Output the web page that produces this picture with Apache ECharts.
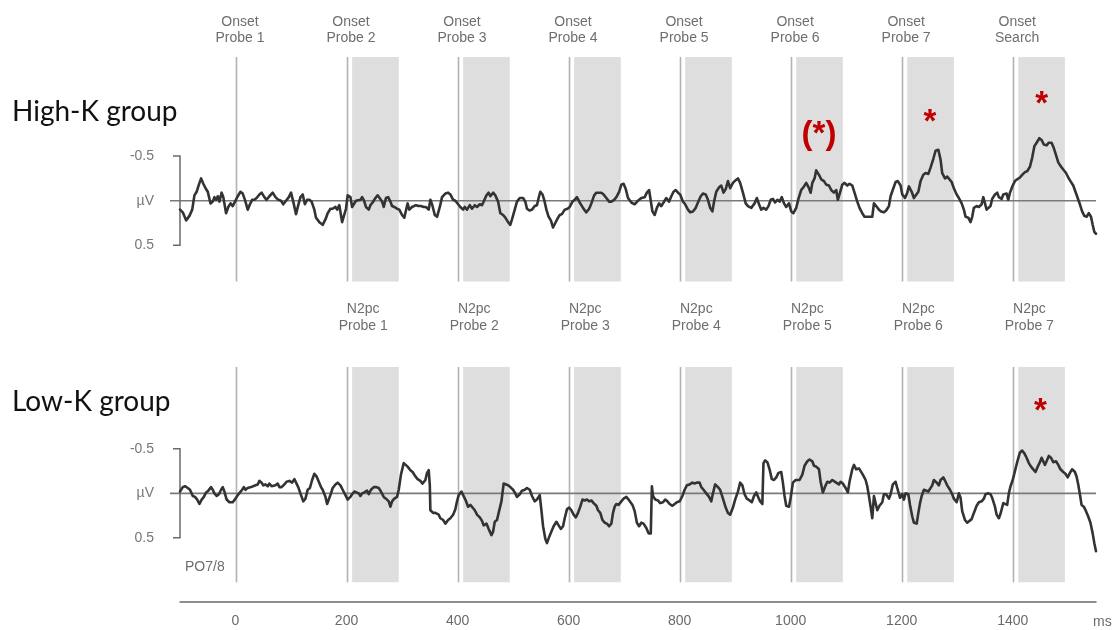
<!DOCTYPE html>
<html><head><meta charset="utf-8">
<script src="https://cdn.jsdelivr.net/npm/echarts@6/dist/echarts.min.js"></script>
<style>html,body{margin:0;padding:0;background:#fff}#c{width:1116px;height:630px}</style>
</head><body><div id="c"></div>
<script>
// ---- data (time in ms, amplitude in µV) ----
const highKWave = [[-100,0.10],[-95,0.13],[-89,0.22],[-83,0.17],[-78,0.10],[-74,-0.06],[-70,-0.10],[-66,-0.18],[-62,-0.25],[-58,-0.19],[-54,-0.14],[-50,-0.10],[-45,0.03],[-41,0.01],[-38,-0.04],[-35,-0.01],[-32,-0.05],[-29,0.01],[-25,-0.09],[-22,-0.04],[-17,0.14],[-13,0.07],[-9,0.03],[-5,0.06],[0,0],[4,-0.05],[9,-0.10],[13,-0.08],[17,-0.01],[22,0.10],[26,0.04],[30,-0.01],[34,-0.01],[38,-0.03],[43,-0.07],[47,-0.09],[52,-0.04],[56,-0.01],[61,-0.05],[67,-0.09],[72,-0.04],[77,-0.01],[82,0],[86,0.04],[91,0],[96,-0.04],[100,-0.09],[104,0.01],[109,0.15],[113,0.05],[117,-0.04],[121,-0.07],[125,0.04],[129,-0.01],[133,-0.01],[137,0.01],[142,0.10],[145,0.19],[151,0.24],[157,0.27],[162,0.21],[166,0.14],[171,0.09],[175,0.09],[180,0.07],[183,0.10],[187,0.05],[192,0.24],[195,0.25],[199,0.09],[202,-0.06],[207,-0.04],[210,0.07],[213,0.04],[217,0],[220,0.02],[225,-0.01],[228,-0.04],[231,-0.01],[235,0.07],[240,0.10],[243,0.05],[247,0.02],[252,-0.03],[256,-0.06],[259,-0.08],[264,0.01],[267,0.07],[271,-0.03],[275,-0.04],[279,0.01],[282,0.06],[286,0.07],[291,0.09],[295,0.10],[300,0.16],[304,0.19],[307,0.11],[310,0.03],[313,0.10],[318,0.07],[321,0.06],[325,0.05],[330,0.06],[334,0.06],[339,0.07],[343,0.07],[348,0.10],[351,-0.01],[354,0.04],[359,0.16],[363,0.18],[368,0.07],[372,-0.04],[378,-0.08],[383,-0.09],[387,-0.07],[392,-0.01],[396,0],[401,0.04],[405,0.07],[410,0.10],[413,0.07],[417,0.10],[422,0.05],[426,0.09],[431,0.05],[435,0.07],[440,0.04],[444,0.05],[447,0.03],[452,-0.06],[456,-0.09],[459,-0.05],[464,-0.09],[468,-0.06],[473,0.01],[477,0.14],[482,0.16],[486,0.19],[491,0.24],[495,0.27],[498,0.21],[503,0.10],[507,0.01],[512,-0.03],[518,-0.03],[522,0.01],[525,0.09],[530,0.11],[534,0.10],[539,0.06],[543,0.05],[546,-0.03],[549,-0.10],[553,-0.07],[556,-0.01],[560,0.10],[564,0.18],[568,0.22],[572,0.30],[576,0.25],[580,0.20],[584,0.16],[588,0.15],[593,0.10],[598,0.09],[602,0.07],[607,0.01],[611,-0.01],[615,-0.04],[620,0.02],[624,0.06],[628,0.10],[632,0.13],[637,0.09],[641,0.03],[646,-0.06],[650,-0.09],[655,-0.09],[659,-0.09],[663,-0.07],[668,-0.03],[673,0.01],[677,0.01],[682,-0.01],[686,-0.04],[691,-0.10],[695,-0.18],[699,-0.19],[703,-0.13],[707,-0.03],[713,0.02],[719,0.04],[725,0],[731,-0.03],[737,-0.04],[741,-0.09],[745,-0.12],[748,-0.14],[751,0.12],[755,0.16],[759,0.08],[763,0.03],[767,0.06],[771,0.02],[776,-0.03],[781,0.01],[785,-0.05],[789,-0.10],[793,-0.12],[797,-0.09],[801,-0.07],[806,0.01],[810,0.04],[815,0.10],[819,0.13],[824,0.12],[829,0.08],[833,0.02],[838,-0.05],[842,-0.08],[847,-0.07],[851,-0.01],[855,0.08],[859,0.12],[862,0.01],[866,-0.10],[871,-0.15],[875,-0.17],[879,-0.09],[883,-0.13],[887,-0.22],[891,-0.14],[896,-0.20],[901,-0.23],[905,-0.25],[909,-0.20],[914,-0.09],[919,0.03],[923,0.06],[929,0.08],[935,0.03],[939,-0.03],[943,0.04],[947,0.10],[951,0.08],[956,0.10],[960,0.06],[964,-0.01],[968,-0.02],[972,0.02],[976,-0.01],[980,0.01],[984,-0.04],[988,0.03],[992,0.07],[997,0.03],[1001,0.12],[1005,0.14],[1010,0.08],[1014,-0.02],[1019,-0.12],[1024,-0.16],[1028,-0.20],[1033,-0.14],[1036,-0.09],[1039,-0.20],[1043,-0.25],[1046,-0.34],[1051,-0.29],[1055,-0.24],[1060,-0.22],[1064,-0.18],[1069,-0.17],[1073,-0.12],[1078,-0.09],[1082,-0.12],[1085,-0.01],[1088,-0.07],[1093,-0.18],[1097,-0.20],[1102,-0.17],[1106,-0.19],[1111,-0.17],[1115,-0.09],[1120,0.01],[1124,0.08],[1129,0.14],[1133,0.18],[1138,0.18],[1142,0.18],[1147,0.18],[1150,0.03],[1154,0.06],[1159,0.10],[1163,0.12],[1168,0.13],[1172,0.11],[1177,0.06],[1180,-0.05],[1185,-0.14],[1189,-0.21],[1193,-0.22],[1198,-0.17],[1201,-0.07],[1206,-0.03],[1210,-0.09],[1213,-0.16],[1218,-0.10],[1222,-0.03],[1225,-0.02],[1230,-0.10],[1234,-0.22],[1239,-0.29],[1243,-0.31],[1248,-0.30],[1252,-0.37],[1257,-0.47],[1261,-0.56],[1266,-0.57],[1270,-0.46],[1273,-0.31],[1278,-0.25],[1282,-0.27],[1285,-0.28],[1290,-0.21],[1294,-0.14],[1299,-0.07],[1303,-0.03],[1308,0.03],[1312,0.10],[1315,0.18],[1320,0.19],[1324,0.24],[1327,0.18],[1330,0.08],[1335,0.06],[1339,0.07],[1344,0.04],[1347,-0.04],[1350,0.03],[1353,0.10],[1356,0.12],[1360,0.06],[1363,-0.02],[1368,-0.07],[1372,-0.09],[1375,-0.04],[1380,-0.02],[1383,-0.07],[1386,-0.05],[1389,-0.08],[1392,-0.01],[1395,-0.09],[1400,-0.17],[1404,-0.22],[1408,-0.24],[1413,-0.26],[1417,-0.29],[1422,-0.32],[1426,-0.33],[1431,-0.38],[1435,-0.48],[1439,-0.61],[1443,-0.65],[1448,-0.70],[1452,-0.68],[1456,-0.63],[1461,-0.62],[1465,-0.65],[1470,-0.65],[1474,-0.59],[1478,-0.51],[1482,-0.43],[1486,-0.39],[1491,-0.35],[1496,-0.31],[1500,-0.26],[1504,-0.22],[1509,-0.17],[1513,-0.10],[1517,-0.03],[1521,0.04],[1525,0.12],[1529,0.17],[1533,0.18],[1537,0.14],[1541,0.18],[1544,0.27],[1547,0.35],[1550,0.37]];

const lowKWave = [[-100,-0.02],[-95,-0.07],[-91,-0.08],[-86,-0.06],[-82,-0.04],[-77,0.03],[-73,0.04],[-69,0.07],[-65,0.12],[-61,0.07],[-57,0.04],[-53,-0.01],[-49,-0.03],[-44,-0.07],[-41,-0.04],[-38,0],[-34,0.03],[-30,0.01],[-26,-0.04],[-23,-0.07],[-20,-0.02],[-16,0.07],[-11,0.10],[-5,0.10],[0,0.06],[4,0.02],[7,0.03],[12,-0.04],[15,-0.07],[18,-0.04],[22,-0.06],[25,-0.07],[28,-0.07],[31,-0.06],[36,-0.09],[40,-0.10],[43,-0.14],[47,-0.12],[50,-0.09],[54,-0.10],[58,-0.08],[61,-0.11],[65,-0.08],[68,-0.06],[72,-0.09],[76,-0.11],[79,-0.07],[83,-0.07],[88,-0.10],[92,-0.13],[97,-0.14],[102,-0.12],[106,-0.16],[109,-0.15],[113,-0.07],[118,0.02],[122,0.09],[126,0.06],[130,-0.04],[134,-0.06],[138,-0.15],[142,-0.22],[146,-0.19],[150,-0.13],[154,-0.07],[157,-0.04],[162,0.04],[165,0.12],[168,0.07],[172,0],[175,-0.06],[180,-0.10],[184,-0.12],[189,-0.09],[193,-0.04],[198,0.02],[202,0.07],[207,0.04],[210,0.01],[214,-0.02],[217,-0.04],[222,0],[225,0.03],[228,0],[232,-0.01],[237,-0.03],[240,0.01],[244,-0.04],[249,-0.07],[253,-0.07],[258,-0.06],[262,-0.02],[267,0.04],[271,0.06],[276,0.09],[279,0.15],[282,0.09],[286,0.06],[291,0.04],[294,-0.04],[298,-0.21],[303,-0.34],[306,-0.36],[310,-0.30],[315,-0.26],[319,-0.24],[324,-0.19],[328,-0.16],[333,-0.14],[337,-0.11],[342,-0.15],[345,-0.23],[348,-0.26],[350,-0.09],[351,0.19],[356,0.22],[360,0.22],[363,0.21],[366,0.24],[369,0.28],[374,0.30],[378,0.34],[383,0.30],[387,0.28],[392,0.24],[396,0.18],[399,0.09],[402,0.02],[407,-0.02],[410,0.02],[414,0.07],[419,0.15],[423,0.13],[426,0.11],[431,0.19],[435,0.24],[440,0.27],[444,0.31],[447,0.36],[452,0.34],[456,0.40],[461,0.47],[464,0.43],[467,0.32],[471,0.30],[474,0.22],[479,0.09],[483,-0.11],[486,-0.12],[491,-0.09],[495,-0.07],[500,-0.04],[504,0],[507,0.04],[512,0.01],[516,-0.03],[521,-0.04],[525,-0.06],[530,-0.04],[534,0.03],[539,0.09],[543,0.07],[548,0.02],[551,0.19],[554,0.37],[558,0.51],[561,0.56],[565,0.49],[569,0.43],[573,0.37],[578,0.32],[582,0.36],[586,0.40],[590,0.37],[593,0.28],[597,0.18],[601,0.16],[605,0.19],[609,0.24],[613,0.27],[617,0.22],[621,0.15],[625,0.07],[629,0.08],[633,0.07],[637,0.09],[641,0.08],[645,0.11],[650,0.14],[653,0.19],[657,0.22],[661,0.30],[665,0.33],[669,0.34],[673,0.37],[677,0.34],[680,0.22],[683,0.15],[686,0.12],[690,0.13],[695,0.09],[699,0.06],[704,0.04],[708,0.07],[715,0.13],[719,0.20],[723,0.33],[727,0.37],[731,0.33],[735,0.34],[740,0.39],[744,0.45],[748,0.45],[750,-0.08],[752,0.03],[756,0.07],[761,0.08],[765,0.11],[770,0.10],[774,0.07],[778,0.09],[782,0.12],[787,0.14],[791,0.12],[795,0.10],[800,0.09],[805,0.03],[809,-0.04],[813,-0.09],[818,-0.10],[823,-0.12],[827,-0.11],[831,-0.12],[836,-0.12],[839,-0.07],[843,-0.04],[848,0],[853,0.04],[857,0.09],[860,0],[864,-0.10],[869,-0.07],[873,-0.04],[878,0.06],[883,0.16],[887,0.22],[891,0.24],[896,0.16],[900,0.07],[905,-0.02],[909,-0.12],[913,-0.09],[917,0.01],[921,0.06],[926,0.08],[930,0.10],[934,0.03],[938,-0.01],[942,0.05],[945,0.09],[949,0.12],[951,-0.34],[954,-0.37],[958,-0.35],[962,-0.27],[966,-0.16],[970,-0.15],[974,-0.18],[978,-0.23],[983,-0.24],[986,-0.12],[989,0.03],[992,0.14],[997,0.15],[1000,0.05],[1004,-0.12],[1009,-0.15],[1012,-0.17],[1016,-0.15],[1021,-0.21],[1025,-0.31],[1030,-0.36],[1034,-0.38],[1039,-0.36],[1042,-0.31],[1046,-0.30],[1051,-0.27],[1054,-0.13],[1058,-0.01],[1063,-0.09],[1066,-0.13],[1070,-0.12],[1075,-0.15],[1078,-0.17],[1082,-0.12],[1087,-0.10],[1090,-0.13],[1094,-0.11],[1099,-0.06],[1103,-0.01],[1106,-0.13],[1111,-0.27],[1114,-0.32],[1118,-0.27],[1123,-0.28],[1126,-0.27],[1130,-0.21],[1135,-0.15],[1138,-0.08],[1141,0.03],[1144,0.15],[1147,0.28],[1150,0.03],[1153,0.11],[1156,0.19],[1160,0.14],[1165,0.10],[1168,0.01],[1172,0.01],[1177,0.06],[1180,0.01],[1184,-0.10],[1189,-0.13],[1192,-0.06],[1197,0.05],[1201,0.01],[1204,0.07],[1207,0],[1212,0.01],[1215,0.13],[1219,0.26],[1222,0.33],[1227,0.34],[1230,0.22],[1233,0.11],[1236,0.03],[1240,-0.04],[1243,-0.06],[1248,-0.02],[1251,0],[1255,-0.09],[1258,-0.15],[1263,-0.12],[1267,-0.09],[1270,-0.15],[1275,-0.18],[1279,-0.13],[1282,-0.09],[1287,-0.04],[1291,0.01],[1294,0.06],[1299,0.10],[1303,0],[1306,0.05],[1309,0.20],[1314,0.30],[1318,0.33],[1321,0.33],[1326,0.29],[1330,0.22],[1335,0.14],[1339,0.10],[1344,0.09],[1348,0.06],[1351,0.01],[1356,0],[1360,0.01],[1363,0.05],[1368,0.15],[1371,0.24],[1375,0.28],[1378,0.23],[1383,0.11],[1386,0.10],[1390,0.13],[1393,0],[1396,-0.08],[1400,-0.15],[1404,-0.25],[1408,-0.35],[1413,-0.46],[1417,-0.48],[1421,-0.45],[1425,-0.40],[1429,-0.34],[1433,-0.30],[1437,-0.27],[1441,-0.24],[1445,-0.30],[1449,-0.35],[1452,-0.40],[1455,-0.41],[1458,-0.32],[1461,-0.36],[1465,-0.42],[1469,-0.40],[1473,-0.35],[1478,-0.36],[1482,-0.32],[1486,-0.27],[1491,-0.24],[1495,-0.22],[1499,-0.18],[1503,-0.23],[1507,-0.27],[1512,-0.24],[1515,-0.19],[1518,-0.10],[1521,0.01],[1524,0.13],[1528,0.15],[1532,0.20],[1536,0.26],[1540,0.33],[1544,0.45],[1547,0.56],[1550,0.65]];

const onsetTimes = [0, 200, 400, 600, 800, 1000, 1200, 1400];
const bandStarts = [210, 410, 610, 810, 1010, 1210, 1410];
const bandEnds   = [294, 494, 694, 894, 1094, 1294, 1494];
const onsetHeaderTimes  = [8, 208, 408, 608, 808, 1008, 1208, 1408];
const onsetHeaderLabels = ['Onset\nProbe 1','Onset\nProbe 2','Onset\nProbe 3','Onset\nProbe 4','Onset\nProbe 5','Onset\nProbe 6','Onset\nProbe 7','Onset\nSearch'];
const n2pcHeaderTimes  = [230, 430, 630, 830, 1030, 1230, 1430];
const n2pcHeaderLabels = ['N2pc\nProbe 1','N2pc\nProbe 2','N2pc\nProbe 3','N2pc\nProbe 4','N2pc\nProbe 5','N2pc\nProbe 6','N2pc\nProbe 7'];
const xTickValues = [0, 200, 400, 600, 800, 1000, 1200, 1400];
const yTickValues = [-0.5, 0, 0.5];
const yTickLabels = ['-0.5', 'µV', '0.5'];
const highKSig = [[1051, -0.74, '(*)'], [1251, -0.87, '*'], [1452, -1.07, '*']];
const lowKSig  = [[1450, -0.91, '*']];

// ---- chart ----
const X_MIN = -100, X_MAX = 1550;
const FONT = '"Liberation Sans", Arial, sans-serif';
const chart = echarts.init(document.getElementById('c'), null, {renderer: 'canvas'});

function bandSeries(idx) {
  return {
    type: 'custom', xAxisIndex: idx, yAxisIndex: idx, z: 1, silent: true,
    data: bandStarts.map((s, i) => [s, bandEnds[i]]),
    encode: {x: [0, 1]},
    renderItem: (params, api) => {
      const cs = params.coordSys;
      const x1 = api.coord([api.value(0), 0])[0];
      const x2 = api.coord([api.value(1), 0])[0];
      return {type: 'rect', shape: {x: x1, y: cs.y, width: x2 - x1, height: cs.height}, style: {fill: '#dedede'}};
    }
  };
}
function onsetSeries(idx) {
  return {
    type: 'custom', xAxisIndex: idx, yAxisIndex: idx, z: 2, silent: true,
    data: onsetTimes.map(t => [t]),
    encode: {x: 0},
    renderItem: (params, api) => {
      const cs = params.coordSys;
      const x = Math.round(api.coord([api.value(0), 0])[0]) + 0.5;
      return {type: 'line', shape: {x1: x, y1: cs.y, x2: x, y2: cs.y + cs.height}, style: {stroke: '#b2b2b2', lineWidth: 1.6}};
    }
  };
}
function zeroSeries(idx) {
  return {
    type: 'custom', xAxisIndex: idx, yAxisIndex: idx, z: 3, silent: true,
    data: [[X_MIN, 0]],
    renderItem: (params, api) => {
      const p0 = api.coord([X_MIN, 0]);
      const pe = api.coord([X_MAX, 0]);
      const a = api.coord([X_MIN, yTickValues[0]]);
      const b = api.coord([X_MIN, yTickValues[2]]);
      return {type: 'group', children: [
        {type: 'line', shape: {x1: p0[0] - 10, y1: p0[1], x2: pe[0], y2: pe[1]}, style: {stroke: '#7a7a7a', lineWidth: 1.6}},
        {type: 'polyline', shape: {points: [[a[0] - 7, a[1]], [a[0], a[1]], [b[0], b[1]], [b[0] - 7, b[1]]]}, style: {stroke: '#6a6a6a', lineWidth: 1.5, fill: null}}
      ]};
    }
  };
}
function headerSeries(idx, times, labels, gap) {
  return {
    type: 'custom', xAxisIndex: idx, yAxisIndex: idx, z: 4, silent: true,
    data: times.map(t => [t]),
    encode: {x: 0},
    renderItem: (params, api) => {
      const cs = params.coordSys;
      const x = api.coord([api.value(0), 0])[0];
      return {type: 'text', style: {text: labels[params.dataIndex], x: x, y: cs.y - gap, align: 'center', verticalAlign: 'bottom', fill: '#6e6e6e', font: '14px ' + FONT, lineHeight: 16.6}};
    }
  };
}
function sigSeries(idx, pts) {
  return {
    type: 'custom', xAxisIndex: idx, yAxisIndex: idx, z: 6, silent: true,
    data: pts.map(p => [p[0], p[1]]),
    renderItem: (params, api) => {
      const p = api.coord([api.value(0), api.value(1)]);
      return {type: 'text', style: {text: pts[params.dataIndex][2], x: p[0], y: p[1], align: 'center', verticalAlign: 'middle', fill: '#c00000', font: 'bold 33px ' + FONT}};
    }
  };
}
function waveSeries(idx, data) {
  return {
    type: 'line', xAxisIndex: idx, yAxisIndex: idx, z: 5, data: data,
    showSymbol: false, symbol: 'none', smooth: false, silent: true,
    lineStyle: {color: '#333333', width: 2.6, join: 'round', cap: 'round'}
  };
}
function yAxisCfg(idx, min, max) {
  return {
    type: 'value', gridIndex: idx, inverse: true, min: min, max: max,
    axisLine: {show: false}, axisTick: {show: false}, splitLine: {show: false},
    axisLabel: {customValues: yTickValues, formatter: v => yTickLabels[yTickValues.indexOf(v)], color: '#777', fontSize: 14, fontFamily: FONT, margin: 26}
  };
}

chart.setOption({
  animation: false,
  backgroundColor: '#fff',
  grid: [
    {left: 180, right: 20, top: 57, height: 224.5},
    {left: 180, right: 20, top: 367, height: 215.3}
  ],
  xAxis: [
    {type: 'value', gridIndex: 0, min: X_MIN, max: X_MAX, show: false},
    {type: 'value', gridIndex: 1, min: X_MIN, max: X_MAX, offset: 19.4, position: 'bottom',
     axisLine: {show: true, onZero: false, lineStyle: {color: '#6a6a6a', width: 1.5}}, axisTick: {show: false}, splitLine: {show: false},
     axisLabel: {customValues: xTickValues, formatter: v => String(v), color: '#6a6a6a', fontSize: 14, fontFamily: FONT, margin: 12},
     name: 'ms', nameLocation: 'end', nameGap: -3,
     nameTextStyle: {color: '#6a6a6a', fontSize: 14, fontFamily: FONT, verticalAlign: 'top', align: 'left', padding: [13, 0, 0, 0]}}
  ],
  yAxis: [yAxisCfg(0, -1.61, 0.905), yAxisCfg(1, -1.42, 1.0)],
  graphic: [
    {type: 'text', x: 12, y: 112, style: {text: 'High-K group', font: '28px Lato, "Open Sans", sans-serif', fill: '#111', verticalAlign: 'middle'}},
    {type: 'text', x: 12, y: 402, style: {text: 'Low-K group', font: '28px Lato, "Open Sans", sans-serif', fill: '#111', verticalAlign: 'middle'}},
    {type: 'text', x: 185, y: 567, style: {text: 'PO7/8', font: '14px ' + FONT, fill: '#6e6e6e', verticalAlign: 'middle'}}
  ],
  series: [
    bandSeries(0), onsetSeries(0), zeroSeries(0), headerSeries(0, onsetHeaderTimes, onsetHeaderLabels, 10.4), waveSeries(0, highKWave), sigSeries(0, highKSig),
    bandSeries(1), onsetSeries(1), zeroSeries(1), headerSeries(1, n2pcHeaderTimes, n2pcHeaderLabels, 33), waveSeries(1, lowKWave), sigSeries(1, lowKSig)
  ]
});
</script></body></html>
